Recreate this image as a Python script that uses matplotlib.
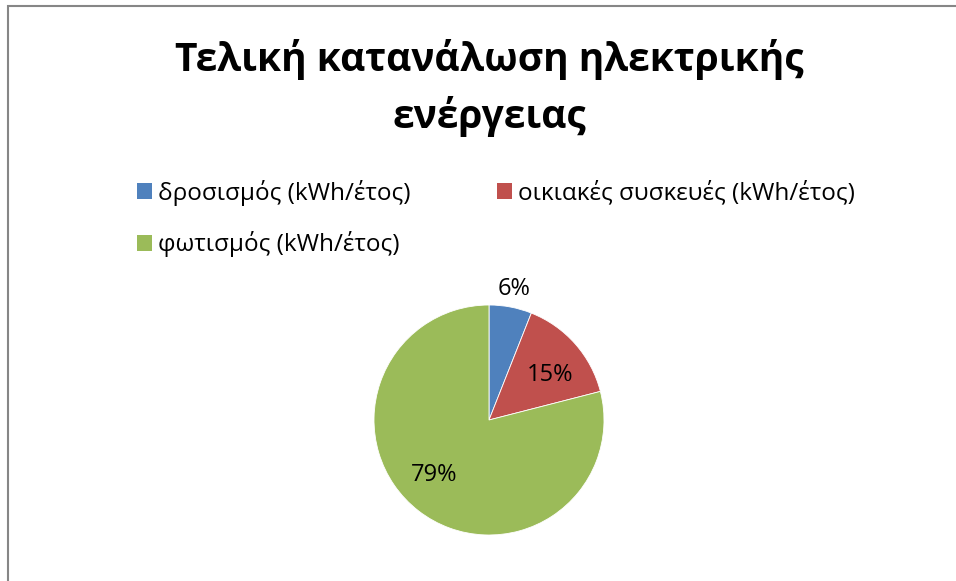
import numpy as np
import matplotlib
matplotlib.use("Agg")
import matplotlib.pyplot as plt
from matplotlib.patches import Patch, Rectangle

plt.rcParams['font.family'] = ['Open Sans', 'DejaVu Sans']

# Δεδομένα: ποσοστά κατανάλωσης ανά χρήση
categories = ['δροσισμός (kWh/έτος)', 'οικιακές συσκευές (kWh/έτος)', 'φωτισμός (kWh/έτος)']
values = [6, 15, 79]
colors = ['#4F81BD', '#C0504D', '#9BBB59']
title = 'Τελική κατανάλωση ηλεκτρικής\nενέργειας'

W, H = 956, 581
fig = plt.figure(figsize=(W / 100, H / 100), dpi=100)

# πλαίσιο γραφήματος (κομμένο δεξιά και κάτω)
fig.patches.append(Rectangle((8 / W, -0.1), 1.1, (H - 6) / H + 0.1,
                             transform=fig.transFigure, fill=False,
                             edgecolor='#868686', linewidth=1.5))

fig.text(489 / W, 1 - 88 / H, title, ha='center', va='center',
         fontsize=28, fontweight='bold', linespacing=1.5)

# πίτα
cx, cy, r = 489, 420, 115
ax = fig.add_axes([(cx - r) / W, 1 - (cy + r) / H, 2 * r / W, 2 * r / H])
wedges, _ = ax.pie(values, colors=colors, startangle=90, counterclock=False,
                   wedgeprops=dict(edgecolor='white', linewidth=0.6))
ax.set_xlim(-1, 1)
ax.set_ylim(-1, 1)
ax.set_aspect('equal')

# ετικέτες ποσοστών
dists = [1.16, 0.66, 0.68]
shifts = [0, -5, -7]  # μικρή στροφή (μοίρες) για καλύτερη θέση
for w, v, d, s in zip(wedges, values, dists, shifts):
    ang = np.deg2rad((w.theta1 + w.theta2) / 2 + s)
    ax.text(d * np.cos(ang), d * np.sin(ang), f'{v}%', ha='center', va='center',
            fontsize=17)

# υπόμνημα
handles = [Patch(facecolor=c, edgecolor='none') for c in colors]
order = [0, 2, 1]
fig.legend([handles[i] for i in order], [categories[i] for i in order],
           ncol=2, loc='upper left', bbox_to_anchor=(127 / W, 1 - 170 / H),
           frameon=False, fontsize=17.5, handlelength=0.62, handleheight=0.62,
           handletextpad=0.25, columnspacing=3.57, labelspacing=1.05,
           borderaxespad=0)

fig.savefig('out.png', dpi=100, facecolor='white')
